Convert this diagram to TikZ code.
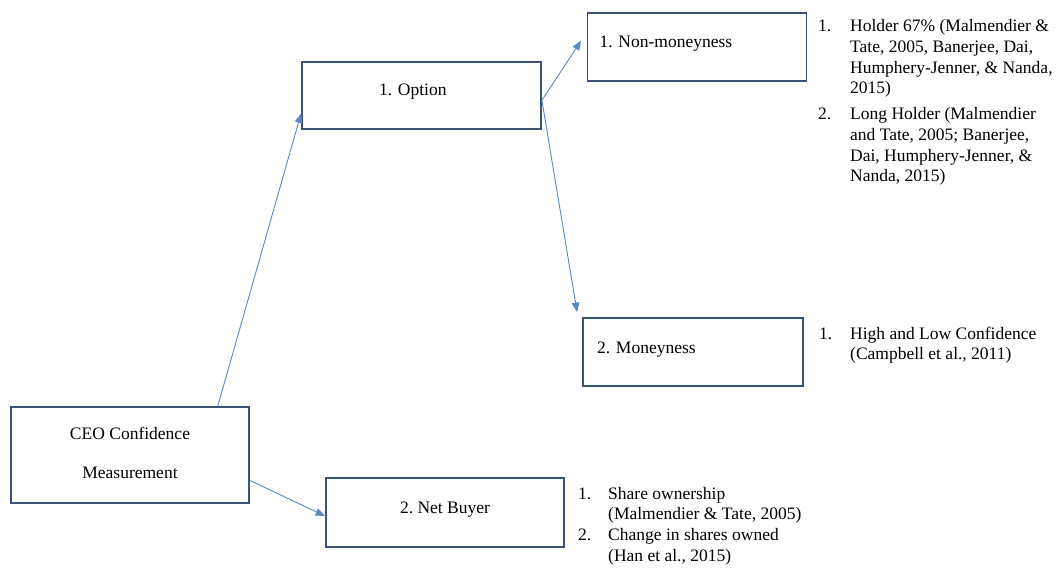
\documentclass[tikz,border=0pt]{standalone}
\usepackage{fontspec}
\setmainfont{Liberation Serif}
\usetikzlibrary{arrows.meta,calc}
\definecolor{boxc}{HTML}{3E5278}
\definecolor{arrc}{HTML}{5B87C4}
\begin{document}
\begin{tikzpicture}[x=1pt,y=-1pt,
  box/.style={draw=boxc, line width=1.8pt, fill=white, inner ysep=0pt, font=\fontsize{17.5}{21}\selectfont\frenchspacing},
  onebox/.style={box, text height=9.5pt, text depth=8pt},
  arr/.style={draw=arrc, line width=0.9pt, -{Triangle[length=9.5pt,width=7.5pt]}},
  lst/.style={inner sep=0pt, anchor=base west, font=\fontsize{17.5}{20.8}\selectfont\frenchspacing}
]
\fill[white] (0,0) rectangle (1057,569);
\useasboundingbox (0,0) rectangle (1057,569);

% boxes
\node[box, minimum width=238pt, minimum height=96pt, align=center,
      font=\fontsize{17.5}{39}\selectfont\frenchspacing] (ceo) at (130,455)
      {CEO Confidence\\Measurement\rule[-5pt]{0pt}{0pt}};
\node[onebox, text width=85pt, inner xsep=77pt, align=left, minimum height=67pt,
      text height=9pt, text depth=8pt] (opt) at (421.5,95.5) {1. Option};
\node[onebox, text width=195pt, inner xsep=12pt, align=left, minimum height=68pt,
      text height=10pt] (nonm) at (697,47) {1. Non-moneyness};
\node[onebox, text width=192pt, inner xsep=14pt, align=left, minimum height=68pt,
      text height=10pt] (mon) at (693,352) {2. Moneyness};
\node[onebox, minimum width=238pt, minimum height=69pt, align=center,
      text height=9pt] (nb) at (445,512.5) {2. Net Buyer};

% connectors
\draw[arr] ($(ceo.north west)!0.866!(ceo.north east)$) -- ($(opt.north west)!0.76!(opt.south west)$);
\draw[arr] ($(ceo.north east)!0.76!(ceo.south east)$) -- ($(nb.north west)!0.55!(nb.south west)$);
\draw[arr, shorten >=10pt] ($(opt.north east)!0.57!(opt.south east)$) -- ($(nonm.north west)!0.29!(nonm.south west)$);
\coordinate (mtip) at ($(mon.north west)+(-5,-5)$);
\draw[arr] ($(opt.north east)!0.57!(opt.south east)$) -- (mtip);

% lists
\node[lst] (l1n) at (818,31.5) {1.};
\node[lst] (l1t) at (850,31.5) {\begin{tabular}[t]{@{}l@{}}Holder 67\% (Malmendier \&\\Tate, 2005, Banerjee, Dai,\\Humphery-Jenner, \& Nanda,\\2015)\end{tabular}};
\node[lst] (l2n) at (818,119.5) {2.};
\node[lst] (l2t) at (850,119.5) {\begin{tabular}[t]{@{}l@{}}Long Holder (Malmendier\\and Tate, 2005; Banerjee,\\Dai, Humphery-Jenner, \&\\Nanda, 2015)\end{tabular}};

\node[lst] (m1n) at (819,339) {1.};
\node[lst] (m1t) at (850,339) {\begin{tabular}[t]{@{}l@{}}High and Low Confidence\\(Campbell et al., 2011)\end{tabular}};

\node[lst] (b1n) at (578,499) {1.};
\node[lst] (b1t) at (608,499) {\begin{tabular}[t]{@{}l@{}}Share ownership\\(Malmendier \& Tate, 2005)\end{tabular}};
\node[lst] (b2n) at (578,540.5) {2.};
\node[lst] (b2t) at (608,540.5) {\begin{tabular}[t]{@{}l@{}}Change in shares owned\\(Han et al., 2015)\end{tabular}};
\end{tikzpicture}
\end{document}
